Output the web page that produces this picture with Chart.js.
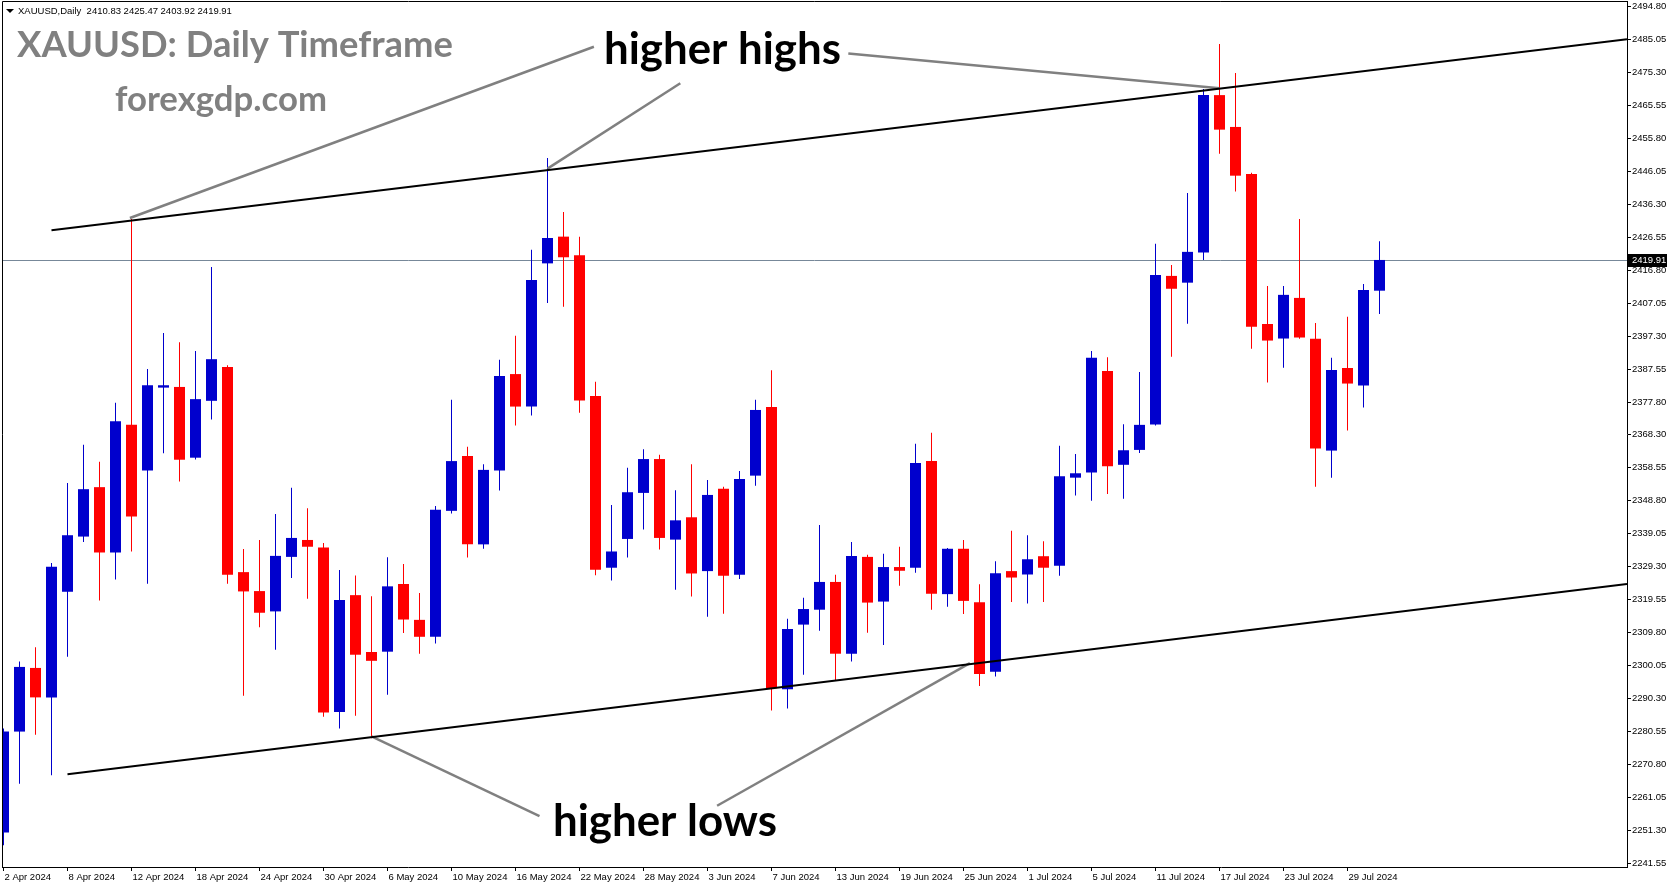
<!DOCTYPE html>
<html>
<head>
<meta charset="utf-8">
<title>XAUUSD Daily</title>
<script src="https://cdn.jsdelivr.net/npm/chart.js@4.4.1/dist/chart.umd.min.js"></script>
<style>
html,body{margin:0;padding:0;background:#fff;}
#wrap{width:1673px;height:888px;position:relative;}
</style>
</head>
<body>
<div id="wrap"><canvas id="chart"></canvas></div>
<script>
const symbol = "XAUUSD,Daily";

const dates = [
"2 Apr 2024","3 Apr 2024","4 Apr 2024","5 Apr 2024","8 Apr 2024","9 Apr 2024","10 Apr 2024","11 Apr 2024","12 Apr 2024",
"15 Apr 2024","16 Apr 2024","17 Apr 2024","18 Apr 2024","19 Apr 2024","22 Apr 2024","23 Apr 2024","24 Apr 2024","25 Apr 2024",
"26 Apr 2024","29 Apr 2024","30 Apr 2024","1 May 2024","2 May 2024","3 May 2024","6 May 2024","7 May 2024","8 May 2024",
"9 May 2024","10 May 2024","13 May 2024","14 May 2024","15 May 2024","16 May 2024","17 May 2024","20 May 2024","21 May 2024",
"22 May 2024","23 May 2024","24 May 2024","27 May 2024","28 May 2024","29 May 2024","30 May 2024","31 May 2024","3 Jun 2024",
"4 Jun 2024","5 Jun 2024","6 Jun 2024","7 Jun 2024","10 Jun 2024","11 Jun 2024","12 Jun 2024","13 Jun 2024","14 Jun 2024",
"17 Jun 2024","18 Jun 2024","19 Jun 2024","20 Jun 2024","21 Jun 2024","24 Jun 2024","25 Jun 2024","26 Jun 2024","27 Jun 2024",
"28 Jun 2024","1 Jul 2024","2 Jul 2024","3 Jul 2024","4 Jul 2024","5 Jul 2024","8 Jul 2024","9 Jul 2024","10 Jul 2024",
"11 Jul 2024","12 Jul 2024","15 Jul 2024","16 Jul 2024","17 Jul 2024","18 Jul 2024","19 Jul 2024","22 Jul 2024","23 Jul 2024",
"24 Jul 2024","25 Jul 2024","26 Jul 2024","29 Jul 2024","30 Jul 2024","31 Jul 2024"
];

const open = [
2250.8,2280.6,2299.4,2290.7,2321.9,2338.2,2352.8,2333.5,2371.2,
2357.7,2382.2,2382.4,2361.5,2378.3,2388.3,2327.7,2322.1,2316.1,
2332.2,2337.2,2335.0,2286.4,2320.9,2304.1,2304.2,2324.2,2313.6,
2308.6,2345.8,2362.0,2335.9,2357.7,2386.2,2376.6,2418.9,2426.8,
2421.3,2379.7,2329.0,2337.5,2351.1,2361.1,2337.3,2343.9,2328.0,
2352.3,2326.9,2356.2,2376.5,2293.1,2312.2,2316.6,2324.8,2303.6,
2332.2,2319.0,2329.2,2329.0,2360.5,2321.2,2334.6,2318.8,2298.3,
2328.0,2327.0,2332.4,2329.6,2355.6,2357.1,2387.1,2359.4,2363.8,
2371.3,2415.2,2413.2,2422.1,2468.6,2459.2,2445.3,2401.0,2396.7,
2408.7,2396.6,2363.6,2388.0,2382.8,2410.83
];
const high = [
2281.5,2301.3,2305.5,2330.4,2354.0,2365.3,2360.3,2377.7,2432.0,
2387.7,2398.3,2395.6,2393.0,2417.8,2388.8,2334.5,2337.2,2344.9,
2352.6,2346.6,2336.3,2328.3,2326.7,2320.6,2332.1,2330.1,2321.5,
2347.2,2378.6,2364.7,2359.6,2390.4,2397.5,2422.9,2450.0,2434.1,
2426.8,2383.9,2347.5,2358.5,2364.0,2362.4,2351.9,2359.6,2354.9,
2352.9,2357.6,2378.6,2387.3,2313.9,2320.1,2341.6,2326.9,2336.6,
2332.8,2333.1,2335.2,2365.6,2368.9,2334.8,2337.2,2324.1,2330.9,
2339.9,2338.6,2336.8,2365.0,2362.6,2393.0,2391.2,2371.4,2386.8,
2424.7,2418.4,2439.7,2470.4,2483.7,2475.1,2445.7,2412.2,2412.2,
2432.0,2401.3,2391.0,2403.1,2412.8,2425.47
];
const low = [
2247.0,2265.2,2279.7,2267.7,2302.7,2336.6,2319.3,2325.5,2333.8,
2324.3,2362.8,2354.5,2361.0,2372.8,2324.3,2291.2,2311.4,2304.8,
2326.0,2319.8,2285.0,2281.5,2285.3,2278.6,2291.5,2309.7,2303.6,
2306.6,2345.0,2332.0,2334.6,2351.8,2371.0,2374.0,2407.2,2406.1,
2374.8,2326.8,2325.2,2332.0,2340.3,2334.4,2322.5,2320.5,2314.5,
2315.4,2325.7,2353.2,2286.8,2287.4,2297.4,2310.4,2295.8,2301.3,
2309.8,2306.2,2323.7,2327.5,2316.6,2317.5,2315.3,2294.1,2296.9,
2318.9,2318.4,2318.9,2326.6,2350.3,2348.8,2350.8,2349.4,2362.9,
2371.0,2391.3,2401.1,2419.9,2451.3,2440.1,2393.7,2383.7,2388.1,
2396.6,2352.9,2355.6,2369.5,2376.3,2403.92
];
const close = [
2280.6,2299.7,2290.7,2329.3,2338.6,2352.2,2333.5,2372.3,2344.1,
2382.9,2382.9,2360.9,2378.8,2390.6,2326.9,2322.0,2315.7,2332.5,
2337.8,2335.2,2286.2,2319.5,2303.3,2301.5,2323.5,2313.7,2308.6,
2346.1,2360.5,2335.9,2357.9,2385.6,2376.6,2414.0,2426.4,2420.7,
2378.4,2328.4,2333.8,2351.3,2361.1,2337.8,2343.0,2327.3,2350.5,
2326.6,2355.2,2375.6,2293.4,2310.9,2316.8,2324.8,2303.6,2332.5,
2318.7,2329.2,2328.1,2359.9,2321.3,2334.6,2319.2,2297.6,2327.4,
2326.1,2331.5,2329.0,2356.0,2356.9,2391.0,2359.0,2363.7,2371.2,
2415.5,2411.4,2422.3,2468.6,2458.4,2444.8,2400.2,2396.1,2409.6,
2397.0,2364.2,2387.4,2383.4,2411.0,2419.91
];

const yTicks = [
2241.55,2251.30,2261.05,2270.80,2280.55,2290.30,2300.05,2309.80,2319.55,
2329.30,2339.05,2348.80,2358.55,2368.30,2377.80,2387.55,2397.30,2407.05,
2416.80,2426.55,2436.30,2446.05,2455.80,2465.55,2475.30,2485.05,2494.80
];
const xTicks = [0,4,8,12,16,20,24,28,32,36,40,44,48,52,56,60,64,68,72,76,80,84];

const bid = close[close.length - 1];

// trend lines: bar index / price, channel lines run on to the right edge
const channelTop = [3, 2428.7, 101.5, 2485.1];
const channelBottom = [4, 2268.0, 101.5, 2324.2];
const pointers = [
[7.9, 2432.3, 36.9, 2482.9],
[34.0, 2446.9, 42.3, 2472.1],
[52.8, 2480.9, 76.0, 2470.6],
[23.0, 2279.2, 33.5, 2255.6],
[60.4, 2300.8, 44.6, 2258.7]
];

const notes = [
{text:"XAUUSD: Daily Timeframe", x:17, y:57, w:436, color:"#808080"},
{text:"forexgdp.com", x:115, y:111, w:212, color:"#808080"},
{text:"higher highs", x:604, y:64, w:237, color:"#000000"},
{text:"higher lows", x:553, y:836, w:224, color:"#000000"}
];

const UP = "#0000CD";
const DOWN = "#FF0000";
const X_MIN = -0.09375;
const X_MAX = X_MIN + 1625 / 16;

const colors = close.map((c, i) => c >= open[i] ? UP : DOWN);
const wicks = dates.map((d, i) => ({x: i, y: [low[i], high[i]]}));
const bodies = dates.map((d, i) => ({x: i, y: [open[i], close[i]]}));

function lineSet(p, color, width, extend){
  let x2 = p[2], y2 = p[3];
  if(extend){
    const k = (p[3] - p[1]) / (p[2] - p[0]);
    x2 = X_MAX; y2 = p[1] + k * (X_MAX - p[0]);
  }
  return {
    type:"line",
    data:[{x:p[0], y:p[1]}, {x:x2, y:y2}],
    borderColor:color,
    borderWidth:width,
    pointRadius:0,
    fill:false,
    order:0
  };
}

function fitFont(ctx, n){
  ctx.font = "bold 40px Lato";
  const w = ctx.measureText(n.text).width;
  return 40 * n.w / w;
}

function noPad(s){
  s.paddingTop = 0; s.paddingBottom = 0;
  s.paddingLeft = 0; s.paddingRight = 0;
}

// ---------- OVERLAY ----------
const overlay = {
  id:"overlay",
  beforeDatasetsDraw(chart){
    const {ctx, chartArea:a, scales:{y}} = chart;
    const py = Math.round(y.getPixelForValue(bid)) + 0.5;
    ctx.save();
    ctx.strokeStyle = "#778899";
    ctx.lineWidth = 1;
    ctx.beginPath();
    ctx.moveTo(a.left, py);
    ctx.lineTo(a.right, py);
    ctx.stroke();
    ctx.restore();
  },
  afterDraw(chart){
    const {ctx, chartArea:a, scales:{y}} = chart;
    ctx.save();
    // frame
    ctx.strokeStyle = "#000";
    ctx.lineWidth = 1;
    ctx.beginPath();
    ctx.moveTo(a.left + 0.5, a.bottom);
    ctx.lineTo(a.left + 0.5, a.top + 0.5);
    ctx.lineTo(a.right, a.top + 0.5);
    ctx.stroke();

    // bid label
    const py = Math.round(y.getPixelForValue(bid));
    ctx.fillStyle = "#000";
    ctx.fillRect(a.right + 1, py - 6, 39, 13);
    ctx.fillStyle = "#fff";
    ctx.font = "9.5px 'Liberation Sans'";
    ctx.textBaseline = "middle";
    ctx.textAlign = "left";
    ctx.fillText(bid.toFixed(2), a.right + 5, py + 0.5);

    // header
    ctx.fillStyle = "#000";
    ctx.beginPath();
    ctx.moveTo(6, 9); ctx.lineTo(14, 9); ctx.lineTo(10, 13); ctx.closePath();
    ctx.fill();
    const last = close.length - 1;
    const head = symbol + "  " + [open[last], high[last], low[last], close[last]].map(v => v.toFixed(2)).join(" ");
    ctx.font = "9.5px 'Liberation Sans'";
    ctx.textBaseline = "middle";
    ctx.fillText(head, 18, 11);

    // notes
    ctx.textBaseline = "alphabetic";
    notes.forEach(n => {
      const size = fitFont(ctx, n);
      ctx.font = "bold " + size.toFixed(2) + "px Lato";
      ctx.fillStyle = n.color;
      ctx.fillText(n.text, n.x, n.y);
    });
    ctx.restore();
  }
};

const ctx = document.getElementById("chart").getContext("2d");

const chart = new Chart(ctx,{
type:"bar",
data:{
datasets:[
lineSet(channelTop, "#000000", 2, true),
lineSet(channelBottom, "#000000", 2, true),
...pointers.map(p => lineSet(p, "#808080", 2.5, false)),
{
label:"body",
data:bodies,
backgroundColor:colors,
borderWidth:0,
barThickness:11,
minBarLength:1,
inflateAmount:0,
grouped:false,
order:1
},
{
label:"wick",
data:wicks,
backgroundColor:colors,
borderWidth:0,
barThickness:1,
inflateAmount:0,
grouped:false,
order:2
}
]
},
options:{
responsive:true,
maintainAspectRatio:false,
animation:false,
events:[],
layout:{padding:{left:2, top:1, right:0, bottom:0}},
plugins:{legend:{display:false}, tooltip:{enabled:false}},
scales:{
x:{
type:"linear",
position:"bottom",
min:X_MIN,
max:X_MAX,
offset:false,
grid:{display:true, offset:false, drawOnChartArea:false, drawTicks:true, tickLength:4, color:"#000"},
border:{display:true, color:"#000", width:1},
afterBuildTicks:s => { s.ticks = xTicks.map(v => ({value:v})); },
afterFit:s => { s.height = 21; noPad(s); },
ticks:{
autoSkip:false, maxRotation:0, minRotation:0, align:"start", labelOffset:1, padding:1,
color:"#000", font:{family:"'Liberation Sans'", size:9.5},
callback:v => dates[v] || ""
}
},
y:{
type:"linear",
position:"right",
min:2240.6,
max:2496.4,
grid:{display:true, drawOnChartArea:false, drawTicks:true, tickLength:4, color:"#000"},
border:{display:true, color:"#000", width:1},
afterBuildTicks:s => { s.ticks = yTicks.map(v => ({value:v})); },
afterFit:s => { s.width = 46; noPad(s); },
ticks:{
padding:1, color:"#000", font:{family:"'Liberation Sans'", size:9.5},
callback:v => Number(v).toFixed(2)
}
}
}
},
plugins:[overlay]
});
</script>
</body>
</html>
